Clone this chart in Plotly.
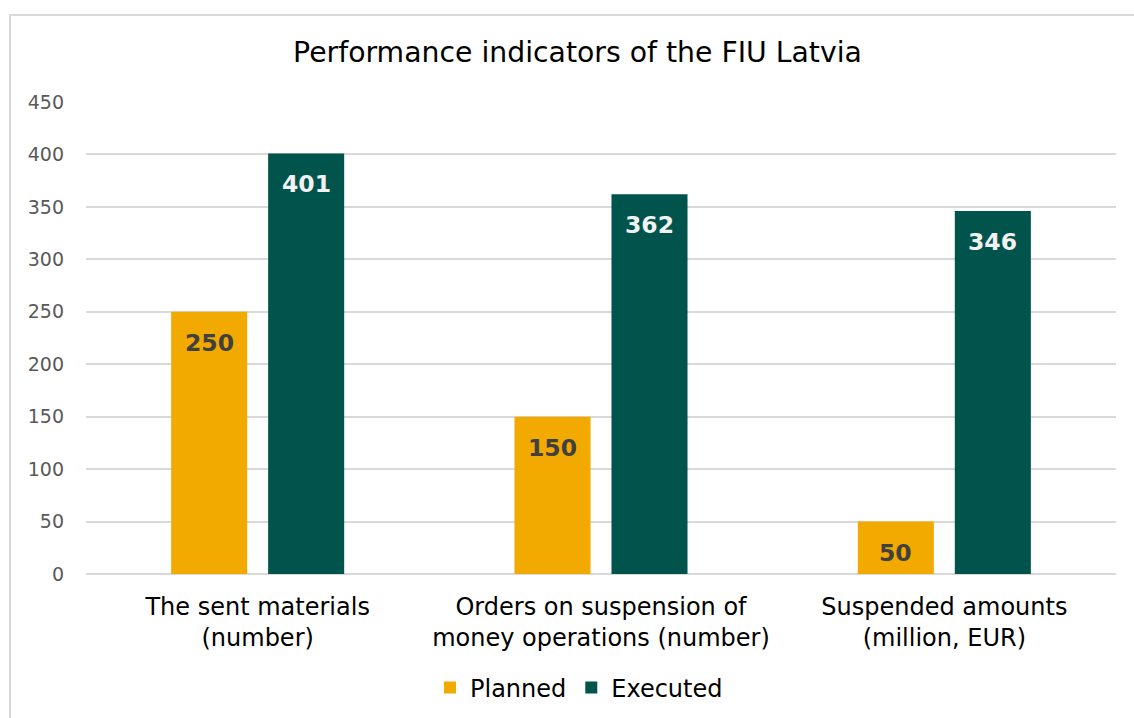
import plotly.graph_objects as go

categories = ["The sent materials<br>(number)",
              "Orders on suspension of<br>money operations (number)",
              "Suspended amounts<br>(million, EUR)"]
planned = [250, 150, 50]
executed = [401, 362, 346]
series_names = ["Planned", "Executed"]
tick_vals = [0, 50, 100, 150, 200, 250, 300, 350, 400, 450]

COL_PLAN = "#F2A900"
COL_EXEC = "#00544C"
FONT = "DejaVu Sans"
BARGAP = 0.435
BARGROUPGAP = 0.216

fig = go.Figure()
fig.add_trace(go.Bar(name=series_names[0], x=categories, y=planned,
                     marker=dict(color=COL_PLAN, line=dict(width=0))))
fig.add_trace(go.Bar(name=series_names[1], x=categories, y=executed,
                     marker=dict(color=COL_EXEC, line=dict(width=0))))

slot = (1 - BARGAP) / 2
annotations = []
for i in range(len(categories)):
    for vals, off, col in ((planned, -slot / 2, "#404040"), (executed, slot / 2, "#F2F2F2")):
        annotations.append(dict(x=i + off, y=vals[i], xref="x", yref="y",
                                text="<b>%d</b>" % vals[i], showarrow=False,
                                yanchor="middle", yshift=-31,
                                font=dict(family=FONT, size=23.5, color=col)))

fig.update_layout(
    width=1134, height=718,
    paper_bgcolor="white", plot_bgcolor="white",
    margin=dict(l=86, r=18, t=102, b=144),
    barmode="group", bargap=BARGAP, bargroupgap=BARGROUPGAP,
    title=dict(text="Performance indicators of the FIU Latvia",
               x=577.5 / 1134, xanchor="center", y=1 - 52 / 718, yanchor="middle",
               font=dict(family=FONT, size=28.3, color="#000000")),
    font=dict(family=FONT),
    xaxis=dict(type="category", showgrid=False, showline=False, ticks="",
               ticklabelstandoff=16, automargin=False,
               tickfont=dict(family=FONT, size=24, color="#000000")),
    yaxis=dict(range=[0, 450], tickvals=tick_vals, showgrid=True,
               gridcolor="#D9D9D9", gridwidth=1.5, zeroline=True,
               zerolinecolor="#D9D9D9", zerolinewidth=1.5, showline=False,
               ticks="", ticklabelstandoff=21, automargin=False,
               tickfont=dict(family=FONT, size=19, color="#595959")),
    legend=dict(orientation="h", x=(579 - 86) / 1030, xanchor="center",
                yref="container", y=1 - 688 / 718, yanchor="middle",
                font=dict(family=FONT, size=24, color="#000000"),
                itemwidth=30, traceorder="normal"),
    annotations=annotations,
    shapes=[dict(type="rect", xref="paper", yref="paper",
                 x0=(10 - 86) / 1030, x1=1.2, y0=-0.5, y1=(574 - 15) / 472,
                 line=dict(color="#D9D9D9", width=2), fillcolor="rgba(0,0,0,0)",
                 layer="below")],
)

fig.write_html("out.html", config={"displayModeBar": False},
               post_script="document.body.style.margin='0';")
